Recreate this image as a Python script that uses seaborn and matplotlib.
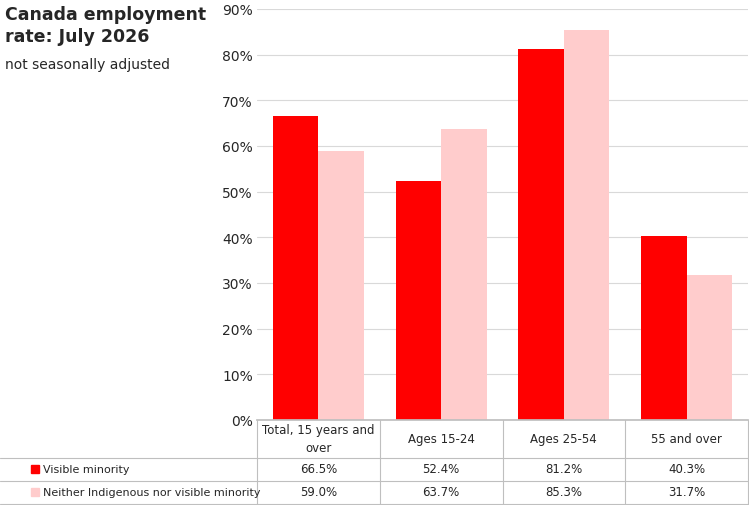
import matplotlib.pyplot as plt
import matplotlib.lines as mlines
import matplotlib.patches as mpatches
import pandas as pd
import seaborn as sns

categories = ['Total, 15 years and\nover', 'Ages 15-24', 'Ages 25-54', '55 and over']
series = ['Visible minority', 'Neither Indigenous nor visible minority']
visible = [66.5, 52.4, 81.2, 40.3]
neither = [59.0, 63.7, 85.3, 31.7]
colors = ['#ff0000', '#ffcccc']

sns.set_theme(style="white")
plt.rcParams['font.family'] = ['DejaVu Sans']

df = pd.DataFrame({
    'Category': categories * 2,
    'Series': [series[0]] * 4 + [series[1]] * 4,
    'Value': visible + neither,
})

W, H = 749, 506
fig = plt.figure(figsize=(W / 100, H / 100), dpi=100)
x0, x1, y0, y1 = 257, 748, 421, 10
ax = fig.add_axes([x0 / W, 1 - y0 / H, (x1 - x0) / W, (y0 - y1) / H])

sns.barplot(data=df, x='Category', y='Value', hue='Series', palette=colors,
            width=0.74, saturation=1, linewidth=0, ax=ax, legend=False)
ax.set_ylim(0, 90)
ax.set_yticks(range(0, 91, 10))
ax.set_yticklabels([f'{v}%' for v in range(0, 91, 10)], fontsize=10)
ax.yaxis.grid(True, color='#d9d9d9', linewidth=0.8)
ax.set_axisbelow(True)
ax.set_xlabel('')
ax.set_ylabel('')
ax.set_xticklabels([])
ax.tick_params(axis='both', length=0, pad=3)
for s in ['top', 'right', 'left']:
    ax.spines[s].set_visible(False)
ax.spines['bottom'].set_color('#bfbfbf')

# data table below the axis
def fl(xa, ya, xb, yb):
    fig.add_artist(mlines.Line2D([xa / W, xb / W], [1 - ya / H, 1 - yb / H],
                                 color='#bfbfbf', linewidth=0.8))

cw = (x1 - x0) / 4
for i in range(5):
    fl(x0 + i * cw, y0, x0 + i * cw, H)
fl(0, 459, x1, 459)
fl(0, 482, x1, 482)
fl(0, 505, x1, 505)

for i, c in enumerate(categories):
    fig.text((x0 + (i + 0.5) * cw) / W, 1 - 440 / H, c, ha='center', va='center',
             fontsize=8.5, linespacing=1.5)
    fig.text((x0 + (i + 0.5) * cw) / W, 1 - 470 / H, f'{visible[i]:.1f}%',
             ha='center', va='center', fontsize=8.5)
    fig.text((x0 + (i + 0.5) * cw) / W, 1 - 493 / H, f'{neither[i]:.1f}%',
             ha='center', va='center', fontsize=8.5)

for row, (name, col) in enumerate(zip(series, colors)):
    yc = 470 + row * 23
    fig.add_artist(mpatches.Rectangle((31 / W, 1 - (yc + 4) / H), 8 / W, 8 / H,
                                      color=col, transform=fig.transFigure))
    fig.text(43 / W, 1 - yc / H, name, ha='left', va='center', fontsize=8)

fig.text(5 / W, 1 - 6 / H, 'Canada employment\nrate: July 2026', ha='left', va='top',
         fontsize=12.5, fontweight='bold', linespacing=1.25)
fig.text(5 / W, 1 - 65 / H, 'not seasonally adjusted', ha='left', va='center', fontsize=10)

fig.savefig('out.png', dpi=100)
